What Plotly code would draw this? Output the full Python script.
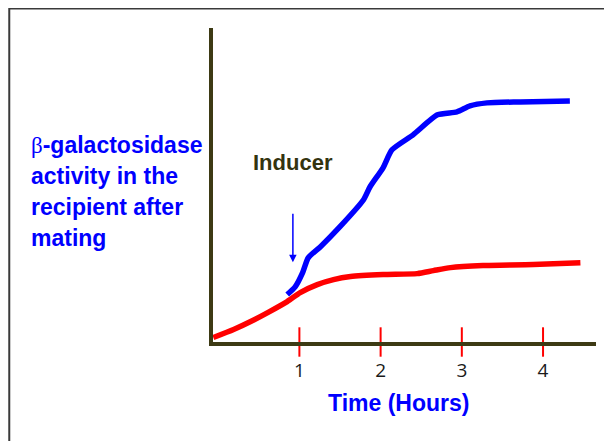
import plotly.graph_objects as go

# Data (time in hours, activity in arbitrary units)
red_t = [-0.06, 0.19, 0.40, 0.61, 0.85, 1.01, 1.22, 1.42, 1.63, 2.03, 2.45, 2.65, 2.86, 3.26, 3.88, 4.46]
red_y = [6.5, 14.5, 22.5, 31.5, 42.5, 51.5, 59.5, 64.5, 67.5, 69.5, 70.5, 73.5, 76.5, 78.5, 79.5, 81.5]

blue_t = [0.85, 0.95, 1.04, 1.11, 1.26, 1.50, 1.79, 1.87, 2.03, 2.14, 2.40, 2.70, 2.94, 3.10, 3.31, 3.72, 4.33]
blue_y = [49.5, 57.5, 71.5, 86.5, 97.5, 117.5, 144.5, 157.5, 176.5, 194.5, 209.5, 229.5, 232.5, 238.5, 241.5, 242.5, 243.5]

tick_vals = [1, 2, 3, 4]
tick_text = ["1", "2", "3", "4"]

inducer_t = 0.92
inducer_head_y = 82
inducer_tail_y = 132

ylabel_lines = ["<span style='font-family:Liberation Serif;font-weight:normal'>β</span>-galactosidase",
                "activity in the", "recipient after", "mating"]

x_range = [-0.0636, 4.652]
y_range = [2, 316.5]

AXIS_COLOR = "#3d3a14"

fig = go.Figure()

fig.add_trace(go.Scatter(x=red_t, y=red_y, mode="lines",
                         line=dict(color="#ff0000", width=5.5, shape="spline", smoothing=0.6),
                         hoverinfo="skip"))
fig.add_trace(go.Scatter(x=blue_t, y=blue_y, mode="lines",
                         line=dict(color="#0000ff", width=5.5, shape="spline", smoothing=0.6),
                         hoverinfo="skip"))
# red tick marks crossing the axis
fig.add_trace(go.Scatter(x=tick_vals, y=[y_range[0]] * len(tick_vals), mode="markers",
                         marker=dict(symbol="line-ns", size=21,
                                     line=dict(color="#ff0000", width=2)),
                         cliponaxis=False, hoverinfo="skip"))

W, H = 612, 441
L, R, T, B = 204.5, 24, 20, 106.5
pw = W - L - R
ph = H - T - B

def px_x(p):
    return (p - L) / pw

def px_y(p):
    return (H - B - p) / ph

fig.update_layout(
    width=W, height=H,
    margin=dict(l=L, r=R, t=T, b=B, pad=0),
    paper_bgcolor="white", plot_bgcolor="white",
    showlegend=False,
    xaxis=dict(range=x_range, showgrid=False, zeroline=False,
               showline=True, linecolor=AXIS_COLOR, linewidth=4,
               tickmode="array", tickvals=tick_vals, ticktext=tick_text,
               ticks="", tickfont=dict(family="Open Sans", size=19, color="#1a1a1a"),
               ticklabelstandoff=8),
    yaxis=dict(range=y_range, showgrid=False, zeroline=False,
               showline=True, linecolor=AXIS_COLOR, linewidth=4,
               showticklabels=False, ticks=""),
    shapes=[
        dict(type="rect", xref="paper", yref="paper",
             x0=px_x(0.5), x1=px_x(700), y0=px_y(600), y1=px_y(0.5),
             line=dict(color="#3a3a3a", width=2), fillcolor="rgba(0,0,0,0)", layer="below"),
    ],
)

annotations = []
# Inducer arrow
annotations.append(dict(x=inducer_t, y=inducer_head_y, ax=inducer_t, ay=inducer_tail_y,
                        xref="x", yref="y", axref="x", ayref="y", text="",
                        showarrow=True, arrowhead=2, arrowsize=1, arrowwidth=1.5,
                        arrowcolor="#0000ff"))
annotations.append(dict(x=px_x(243), y=px_y(155), xref="paper", yref="paper",
                        xanchor="left", yanchor="middle", showarrow=False,
                        text="<b>Inducer</b>",
                        font=dict(family="Liberation Sans", size=22, color="#33330f")))
# y label lines
ylines_y = [137, 168, 199, 230]
for txt, yy in zip(ylabel_lines, ylines_y):
    annotations.append(dict(x=px_x(20), y=px_y(yy), xref="paper", yref="paper",
                            xanchor="left", yanchor="middle", showarrow=False,
                            text="<b>" + txt + "</b>",
                            font=dict(family="Liberation Sans", size=23, color="#0000ff")))
# x axis title
annotations.append(dict(x=px_x(390.5), y=px_y(396), xref="paper", yref="paper",
                        xanchor="center", yanchor="middle", showarrow=False,
                        text="<b>Time (Hours)</b>",
                        font=dict(family="Liberation Sans", size=23, color="#0000ff")))
fig.update_layout(annotations=annotations)

fig.write_html("out.html")
